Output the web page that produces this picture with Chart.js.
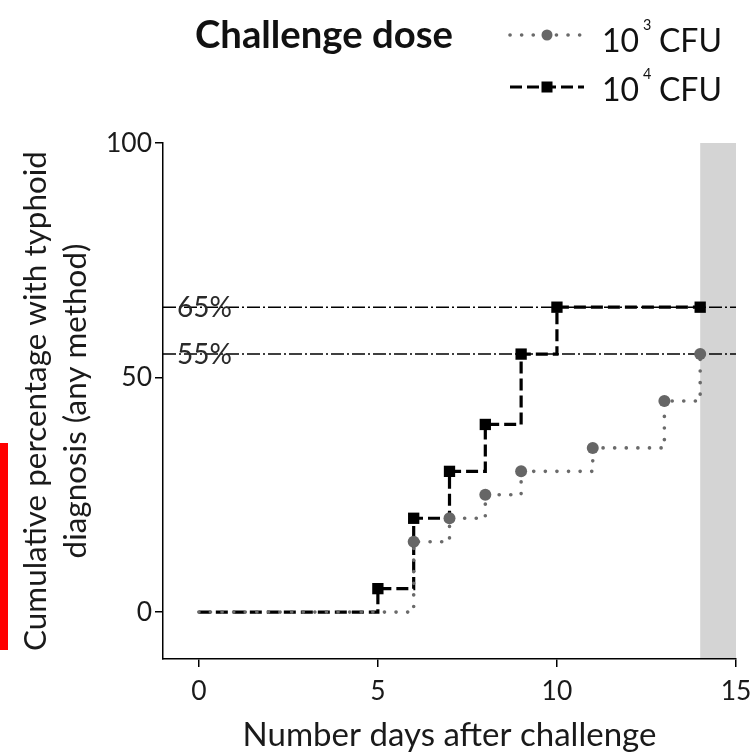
<!DOCTYPE html>
<html><head><meta charset="utf-8">
<script src="https://cdn.jsdelivr.net/npm/chart.js@4.4.0/dist/chart.umd.min.js"></script>
<style>html,body{margin:0;padding:0;background:#fff;}canvas{display:block;}</style>
</head><body>
<canvas id="c" width="753" height="754"></canvas>
<script>
// ---- data ----
const days3 = [0, 6, 7, 8, 9, 11, 13, 14];
const pct3  = [0, 15, 20, 25, 30, 35, 45, 55];
const days4 = [0, 5, 6, 7, 8, 9, 10, 14];
const pct4  = [0, 5, 20, 30, 40, 55, 65, 65];
const refLevels = [65, 55];
const refLabels = ['65%', '55%'];
const xTicks = [0, 5, 10, 15];
const yTicks = [0, 50, 100];
const shadeDays = [14, 15];
const legendTitle = 'Challenge dose';
const legendBase = ['10', '10'];
const legendExp = ['3', '4'];
const legendUnit = 'CFU';
const xTitle = 'Number days after challenge';
const yTitle = ['Cumulative percentage with typhoid', 'diagnosis (any method)'];

// ---- font fitting helper ----
const FONT = 'Lato';
const mctx = document.createElement('canvas').getContext('2d');
function fit(text, weight, target) {
  mctx.font = weight + ' 100px ' + FONT;
  return 100 * target / mctx.measureText(text).width;
}
const xTitleSize = fit(xTitle, 'normal', 414);
const yTitleSize = fit(yTitle[0], 'normal', 500);
const tickSize = fit('100', 'normal', 46);
const refSize = fit('65%', 'normal', 55);
const legTitleSize = fit(legendTitle, 'bold', 258);
const legSize = fit(legendUnit, 'normal', 63);

const pts = (xs, ys) => xs.map((d, i) => ({x: d, y: ys[i]}));

const datasets = [
  {
    label: legendBase[0] + legendExp[0] + ' ' + legendUnit,
    data: pts(days3, pct3), stepped: true, order: 1,
    borderColor: '#6a6a6a', borderWidth: 3.6, borderDash: [0.1, 11.5], borderCapStyle: 'round',
    pointStyle: 'circle', pointRadius: days3.map((d, i) => i === 0 ? 0 : 6),
    pointBackgroundColor: '#666', pointBorderWidth: 0, fill: false
  },
  {
    label: legendBase[1] + legendExp[1] + ' ' + legendUnit,
    data: pts(days4, pct4), stepped: true, order: 2,
    borderColor: '#000', borderWidth: 3.2, borderDash: [12, 5],
    pointStyle: 'rect', pointRadius: days4.map((d, i) => i === 0 ? 0 : 8),
    pointBackgroundColor: '#000', pointBorderWidth: 0, fill: false
  }
];
refLevels.forEach(lv => datasets.push({
  label: 'ref' + lv, data: [{x: -1, y: lv}, {x: 15, y: lv}], order: 3,
  borderColor: '#000', borderWidth: 1.5, borderDash: [13, 3, 2, 3], pointRadius: 0, fill: false
}));

const deco = {
  id: 'deco',
  beforeDraw(chart) {
    const {ctx, chartArea: a, scales: {x}} = chart;
    ctx.save();
    ctx.fillStyle = '#d4d4d4';
    const x0 = x.getPixelForValue(shadeDays[0]), x1 = x.getPixelForValue(shadeDays[1]);
    ctx.fillRect(x0, a.top, x1 - x0, a.bottom - a.top);
    ctx.fillStyle = '#ff0000';
    ctx.fillRect(0, 443, 8, 207);
    ctx.restore();
  },
  afterDraw(chart) {
    const {ctx, scales: {y}} = chart;
    ctx.save();
    // reference labels
    ctx.fillStyle = '#2a2a2a';
    ctx.font = refSize + 'px ' + FONT;
    ctx.textBaseline = 'middle';
    ctx.textAlign = 'left';
    refLevels.forEach((lv, i) => ctx.fillText(refLabels[i], 177, y.getPixelForValue(lv) + 1));
    // legend title
    ctx.fillStyle = '#111';
    ctx.textBaseline = 'alphabetic';
    ctx.font = 'bold ' + legTitleSize + 'px ' + FONT;
    ctx.fillText(legendTitle, 195, 48);
    // legend rows
    const rows = [{ly: 35, by: 52}, {ly: 87, by: 101}];
    rows.forEach((r, i) => {
      const ds = datasets[i];
      ctx.beginPath();
      ctx.strokeStyle = ds.borderColor;
      ctx.lineWidth = ds.borderWidth;
      ctx.lineCap = ds.borderCapStyle || 'butt';
      ctx.setLineDash(ds.borderDash);
      ctx.moveTo(510, r.ly); ctx.lineTo(584, r.ly);
      ctx.stroke();
      ctx.setLineDash([]);
      ctx.fillStyle = ds.pointBackgroundColor;
      if (i === 0) { ctx.beginPath(); ctx.arc(547, r.ly, 5.5, 0, Math.PI * 2); ctx.fill(); }
      else { ctx.fillRect(541.5, r.ly - 5.5, 11, 11); }
      ctx.fillStyle = '#111';
      ctx.font = legSize + 'px ' + FONT;
      ctx.fillText(legendBase[i], 602, r.by);
      const w = ctx.measureText(legendBase[i]).width;
      ctx.font = (legSize * 0.45) + 'px ' + FONT;
      ctx.fillText(legendExp[i], 602 + w + 4, r.by - 22);
      ctx.font = legSize + 'px ' + FONT;
      ctx.fillText(legendUnit, 659, r.by);
    });
    ctx.restore();
  }
};

new Chart(document.getElementById('c'), {
  type: 'line',
  data: {datasets},
  options: {
    responsive: false, animation: false, devicePixelRatio: 1,
    layout: {padding: {top: 143, right: 17, left: 0, bottom: 0}},
    plugins: {legend: {display: false}, tooltip: {enabled: false}},
    scales: {
      x: {
        type: 'linear', min: -1, max: 15,
        afterFit: s => { s.height = 95; s.paddingLeft = 0; s.paddingRight = 0; },
        afterBuildTicks: s => { s.ticks = xTicks.map(v => ({value: v})); },
        ticks: {font: {family: FONT, size: tickSize}, color: '#1a1a1a', padding: 9, maxRotation: 0},
        grid: {display: true, drawOnChartArea: false, drawTicks: true, tickLength: 8, color: '#000', lineWidth: 1.5},
        border: {display: true, color: '#000', width: 1.5},
        title: {display: true, text: xTitle, font: {family: FONT, size: xTitleSize, lineHeight: 1}, color: '#1a1a1a', padding: {top: 0, bottom: 2}}
      },
      y: {
        type: 'linear', min: -10, max: 100,
        afterFit: s => { s.width = 163; s.paddingTop = 0; s.paddingBottom = 0; },
        afterBuildTicks: s => { s.ticks = yTicks.map(v => ({value: v})); },
        ticks: {font: {family: FONT, size: tickSize}, color: '#1a1a1a', padding: 3},
        grid: {display: true, drawOnChartArea: false, drawTicks: true, tickLength: 8, color: '#000', lineWidth: 1.5},
        border: {display: true, color: '#000', width: 1.5},
        title: {display: true, text: yTitle, font: {family: FONT, size: yTitleSize, lineHeight: 1.3}, color: '#1a1a1a', padding: {top: 15, bottom: 0}}
      }
    }
  },
  plugins: [deco]
});
</script>
</body></html>
